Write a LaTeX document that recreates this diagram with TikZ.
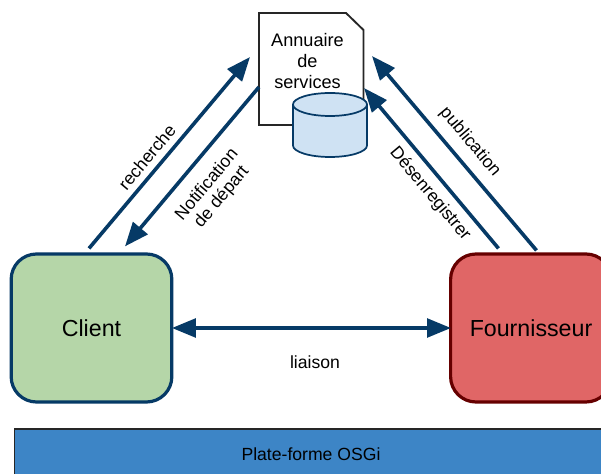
\documentclass[tikz,border=0pt]{standalone}
\usepackage{fontspec}
\setmainfont{Liberation Sans}
\usetikzlibrary{arrows.meta,calc}
\definecolor{navy}{HTML}{063A66}
\definecolor{clientfill}{HTML}{B5D6A8}
\definecolor{fournfill}{HTML}{E06666}
\definecolor{fournline}{HTML}{660000}
\definecolor{cylfill}{HTML}{CFE2F3}
\definecolor{barfill}{HTML}{3D85C6}
\tikzset{
  actor/.style={draw,line width=3.2pt*0.75,rounded corners=19pt,minimum width=120.5pt,minimum height=111pt,inner sep=0pt,font=\fontsize{17.4pt}{20pt}\selectfont},
  link/.style={draw=navy,line width=3.6pt*0.75,-{Triangle[length=18pt,width=14pt]},shorten >=0pt},
  biglink/.style={link,{Triangle[length=18pt,width=14pt]}-{Triangle[length=18pt,width=14pt]}},
  lab/.style={inner sep=0pt,font=\fontsize{13.2pt}{14.5pt}\selectfont,align=center},
}
\begin{document}
\begin{tikzpicture}[x=0.75pt,y=-0.75pt]
\useasboundingbox (0,0) rectangle (601,474);
\clip (0,0) rectangle (601,474);
\fill[white] (0,0) rectangle (601,474);
% platform
\node[draw=black!85,line width=1.3pt,fill=barfill,minimum width=640*0.75pt,minimum height=60*0.75pt,inner sep=0pt,anchor=north west] (bar) at (13.5,428) {};
\node[lab] (bartext) at (311,454) {Plate-forme OSGi};
% actors
\node[actor,draw=navy,fill=clientfill,anchor=center] (client) at (91.5,328) {Client};
\node[actor,draw=fournline,fill=fournfill,anchor=west] (fourn) at (449,328) {};
\node[inner sep=0pt,font=\fontsize{17.4pt}{20pt}\selectfont] (fourntext) at (531,328) {Fournisseur};
% directory document
\coordinate (dNW) at (259,13);
\coordinate (dCa) at (346,13);
\coordinate (dCb) at (363.5,30);
\coordinate (dSE) at (363.5,125);
\coordinate (dSW) at (259,125);
\draw[line width=1.4pt,black!85,fill=white,line join=miter] (dNW) -- (dCa) -- (dCb) -- (dSE) -- (dSW) -- cycle;
\node[inner sep=0pt,align=center,font=\fontsize{13.6pt}{15.9pt}\selectfont] (annuaire) at (307.5,61) {Annuaire\\de\\services};
% cylinder
\coordinate (cylTL) at (293,104.5);
\coordinate (cylTR) at (367,104.5);
\coordinate (cylBL) at (293,145.5);
\draw[navy,line width=1.3pt,fill=cylfill] (cylTL) -- (cylBL) arc[start angle=180,end angle=0,x radius=37,y radius=11.5] -- (cylTR) arc[start angle=0,end angle=-180,x radius=37,y radius=11.5] -- cycle;
\draw[navy,line width=1.3pt] (cylTL) arc[start angle=180,end angle=0,x radius=37,y radius=11.5];
% connector ends
\coordinate (rA) at ($(client.north)+(-2.5,-4)$);
\coordinate (rB) at (250,57);
\coordinate (nA) at (259,87);
\coordinate (nB) at ($(client.north)+(33.5,-6)$);
\coordinate (dA) at ($(fourn.north west)+(49.5,-4)$);
\coordinate (dB) at (364,88);
\coordinate (pA) at ($(fourn.north west)+(87.5,-2)$);
\coordinate (pB) at (372,56);
\draw[link] (rA) -- (rB);
\draw[link] (nA) -- (nB);
\draw[link] (dA) -- (dB);
\draw[link] (pA) -- (pB);
\draw[biglink] ($(client.east)+(-1.5,0)$) -- ($(fourn.west)+(2,0)$);
% labels
\node[lab,rotate=50] (lrech) at (147,157) {recherche};
\node[lab,rotate=50] (lnotif) at (214.5,191) {Notification\\de départ};
\node[lab,rotate=-50] (ldes) at (430,194) {Désenregistrer};
\node[lab,rotate=-50] (lpub) at (470,142) {publication};
\node[lab] (lli) at (315,362) {liaison};
\end{tikzpicture}
\end{document}
